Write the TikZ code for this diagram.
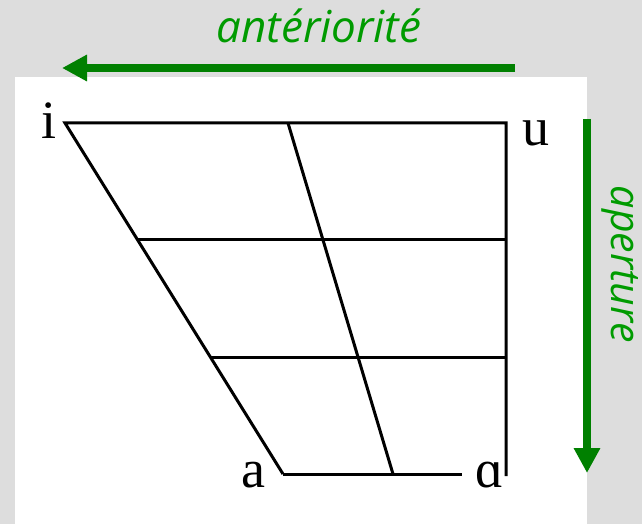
\documentclass[tikz,border=0pt]{standalone}
\usepackage{fontspec}
\setmainfont{Liberation Serif}
\newfontfamily\axisfont{Open Sans}
\usetikzlibrary{arrows.meta}
\definecolor{axisgreen}{RGB}{0,128,0}
\definecolor{labelgreen}{RGB}{0,155,0}
\definecolor{bggray}{RGB}{221,221,221}

\begin{document}
\begin{tikzpicture}[x=1pt, y=-1pt,
        vowel/.style={anchor=base, inner sep=0pt, font=\fontsize{54}{54}\selectfont},
        axis/.style={draw=axisgreen, line width=8pt, -{Triangle[length=25pt, width=25pt]}},
        axislabel/.style={anchor=base, inner sep=0pt, text=labelgreen, font=\axisfont\itshape\fontsize{44}{44}\selectfont},
        grid/.style={draw, line width=3pt}
    ]
        \useasboundingbox (0,0) rectangle (642,524);
        \fill[bggray] (0,0) rectangle (642,524);
        \fill[white] (15,77) rectangle (587,524);

        % corners of the chart
        \coordinate (ic) at (65,123);
        \coordinate (uc) at (506,123);
        \coordinate (ac) at (283,474);
        \coordinate (alc) at (462,474);
        \coordinate (rend) at (506,476);
        \coordinate (mtop) at (288,123);
        \coordinate (mbot) at (393,474);
        \coordinate (h1l) at (138,239);
        \coordinate (h1r) at (506,239);
        \coordinate (h2l) at (211,357);
        \coordinate (h2r) at (506,357);

        \node[vowel] (i) at (49.5,139) {i};
        \node[vowel] (u) at (536,145) {u};
        \node[vowel] (a) at (253,487) {a};
        \node[vowel] (alpha) at (490,487) {ɑ};

        \draw[grid] (ac) -- (ic) -- (uc) -- (rend);
        \draw[grid] (ac) -- (alc);
        \draw[grid] (mtop) -- (mbot);
        \draw[grid] (h1l) -- (h1r);
        \draw[grid] (h2l) -- (h2r);

        % axes
        \coordinate (antstart) at (515,68);
        \coordinate (antend) at (62,68);
        \coordinate (apstart) at (587,119);
        \coordinate (apend) at (587,473);
        \draw[axis] (antstart) -- (antend);
        \draw[axis] (apstart) -- (apend);

        \node[axislabel] (ant) at (319,43) {antériorité};
        \node[axislabel, font=\axisfont\itshape\fontsize{41}{41}\selectfont, rotate=-90] (ap) at (611,264.5) {aperture};
    \end{tikzpicture}
\end{document}
